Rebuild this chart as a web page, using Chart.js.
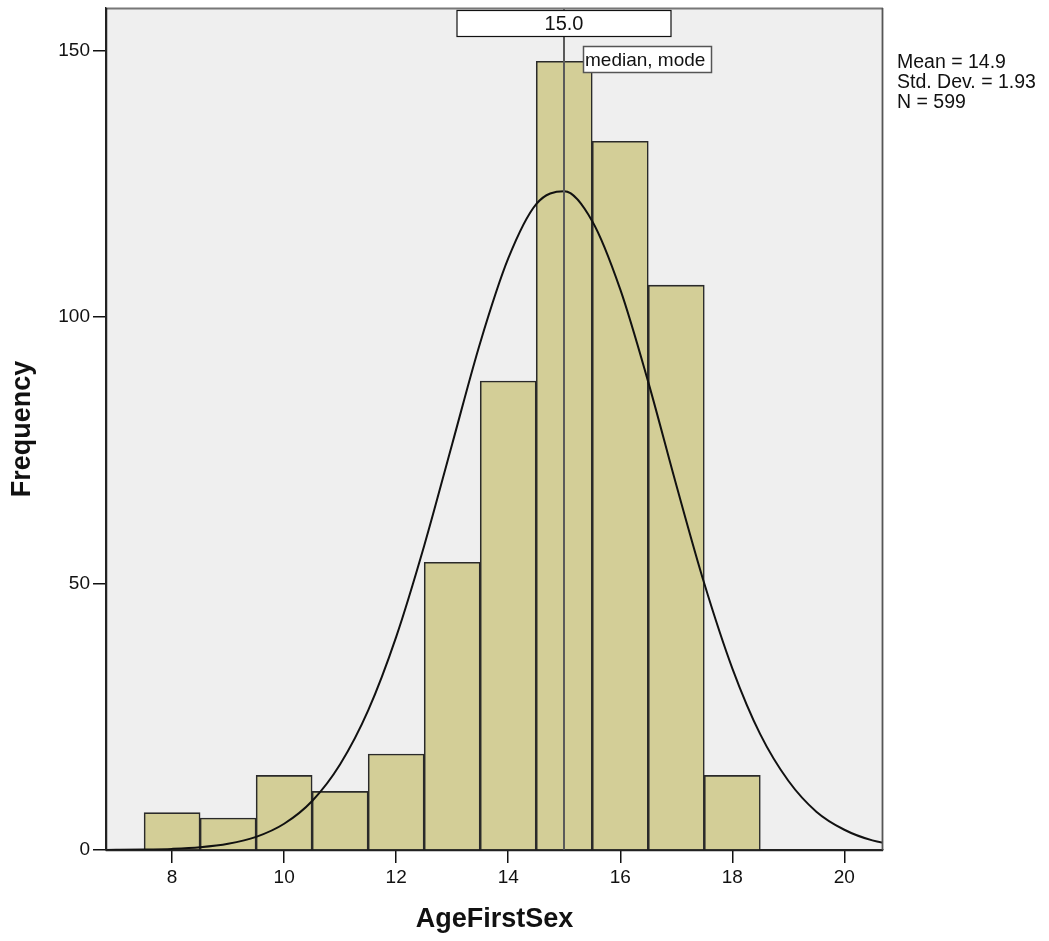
<!DOCTYPE html>
<html><head><meta charset="utf-8">
<script src="https://cdn.jsdelivr.net/npm/chart.js@4/dist/chart.umd.min.js"></script>
<style>html,body{margin:0;padding:0;background:#fff;}#wrap{width:1049px;height:941px;}</style>
</head><body><div id="wrap"><canvas id="c" width="1049" height="941"></canvas></div>
<script>
// ---- data ----
const binCenters = [8, 9, 10, 11, 12, 13, 14, 15, 16, 17, 18];
const frequencies = [7, 6, 14, 11, 18, 54, 88, 148, 133, 106, 14];
const curveX = [6.5, 7, 7.5, 8, 8.5, 9, 9.5, 10, 10.5, 11, 11.5, 12, 12.5, 13, 13.5, 14, 14.5, 15, 15.5, 16, 16.5, 17, 17.5, 18, 18.5, 19, 19.5, 20, 20.5, 21];
const curveY = [0.01, 0.03, 0.08, 0.21, 0.51, 1.16, 2.47, 4.93, 9.2, 16.1, 26.2, 40.0, 57.1, 76.2, 95.2, 111.0, 121.2, 123.6, 118.0, 105.2, 87.8, 68.5, 50.0, 34.1, 21.7, 13.0, 7.2, 3.8, 1.8, 0.84];
const xTicks = [8, 10, 12, 14, 16, 18, 20];
const yTicks = [0, 50, 100, 150];
const medianValue = 15.0;
const medianLabel = '15.0';
const markerLabel = 'median, mode';
const statsLines = ['Mean = 14.9', 'Std. Dev. = 1.93', 'N = 599'];
const xTitle = 'AgeFirstSex';
const yTitle = 'Frequency';

const FONT = "'Liberation Sans', Arial, sans-serif";

const deco = {
  id: 'deco',
  beforeDraw(chart) {
    const {ctx, chartArea: a} = chart;
    ctx.save();
    ctx.fillStyle = '#fff';
    ctx.fillRect(0, 0, chart.width, chart.height);
    ctx.fillStyle = '#EFEFEF';
    ctx.fillRect(a.left, a.top, a.right - a.left, a.bottom - a.top);
    ctx.restore();
  },
  afterDatasetsDraw(chart) {
    const {ctx, chartArea: a, scales} = chart;
    const mx = Math.round(scales.x.getPixelForValue(medianValue));
    ctx.save();
    // median line
    ctx.strokeStyle = '#5a5a5a';
    ctx.lineWidth = 2;
    ctx.beginPath();
    ctx.moveTo(mx, a.top);
    ctx.lineTo(mx, a.bottom);
    ctx.stroke();
    // frame
    ctx.lineWidth = 1.8;
    ctx.strokeStyle = '#777';
    ctx.beginPath();
    ctx.moveTo(a.left, a.top + 0.5); ctx.lineTo(a.right, a.top + 0.5);
    ctx.stroke();
    ctx.strokeStyle = '#555';
    ctx.beginPath();
    ctx.moveTo(a.right - 0.5, a.top); ctx.lineTo(a.right - 0.5, a.bottom);
    ctx.stroke();
    ctx.strokeStyle = '#222';
    ctx.lineWidth = 1.5;
    ctx.beginPath();
    ctx.moveTo(a.left + 0.5, a.top); ctx.lineTo(a.left + 0.5, a.bottom + 0.5);
    ctx.lineTo(a.right, a.bottom + 0.5);
    ctx.stroke();
    // value box
    ctx.lineWidth = 1.2;
    ctx.fillStyle = '#fff';
    ctx.strokeStyle = '#111';
    const bw = 214, bx = mx - bw / 2, by = 10.5, bh = 26;
    ctx.fillRect(bx, by, bw, bh);
    ctx.strokeRect(bx, by, bw, bh);
    ctx.fillStyle = '#111';
    ctx.font = '20px ' + FONT;
    ctx.textAlign = 'center';
    ctx.textBaseline = 'middle';
    ctx.fillText(medianLabel, mx, by + bh / 2 + 1);
    // marker box
    const lx = mx + 19.5, ly = 46.5, lw = 128, lh = 26;
    ctx.fillStyle = '#fff';
    ctx.strokeStyle = '#555';
    ctx.lineWidth = 1.5;
    ctx.fillRect(lx, ly, lw, lh);
    ctx.strokeRect(lx, ly, lw, lh);
    ctx.fillStyle = '#111';
    ctx.font = '19px ' + FONT;
    ctx.textAlign = 'left';
    ctx.fillText(markerLabel, lx + 1.5, ly + lh / 2 + 1);
    // stats
    ctx.textBaseline = 'alphabetic';
    ctx.font = '19.5px ' + FONT;
    statsLines.forEach((t, i) => ctx.fillText(t, 897, 68 + i * 20));
    ctx.restore();
  }
};

new Chart(document.getElementById('c').getContext('2d'), {
  type: 'bar',
  data: {
    datasets: [
      {
        type: 'bar',
        data: binCenters.map((x, i) => ({x: x, y: frequencies[i]})),
        backgroundColor: '#D3CE97',
        borderColor: '#2a2a2a',
        borderWidth: 1.6,
        barPercentage: 1,
        categoryPercentage: 1,
        order: 2
      },
      {
        type: 'line',
        data: curveX.map((x, i) => ({x: x, y: curveY[i]})),
        borderColor: '#111',
        borderWidth: 2,
        pointRadius: 0,
        fill: false,
        cubicInterpolationMode: 'monotone',
        order: 1
      }
    ]
  },
  options: {
    responsive: false,
    animation: false,
    events: [],
    layout: {padding: {left: 0, top: 8, right: 166, bottom: 0}},
    plugins: {legend: {display: false}, tooltip: {enabled: false}},
    scales: {
      x: {
        type: 'linear',
        min: 6.82,
        max: 20.69,
        offset: false,
        grid: {display: true, drawOnChartArea: false, drawTicks: true, tickLength: 13, color: '#111', lineWidth: 1.5, offset: false},
        border: {display: true, color: '#222', width: 1.5},
        ticks: {color: '#111', font: {family: FONT, size: 19}, padding: 3, maxRotation: 0, autoSkip: false},
        afterBuildTicks(s) { s.ticks = xTicks.map(v => ({value: v})); },
        afterFit(s) { s.height = 91; s.paddingLeft = 0; s.paddingRight = 0; },
        title: {display: true, text: xTitle, color: '#111', font: {family: FONT, size: 27, weight: 'bold'}, padding: {top: 0, bottom: 5}}
      },
      y: {
        type: 'linear',
        min: 0,
        max: 158,
        grid: {display: true, drawOnChartArea: false, drawTicks: true, tickLength: 13, color: '#111', lineWidth: 1.5},
        border: {display: true, color: '#222', width: 1.5},
        ticks: {color: '#111', font: {family: FONT, size: 19}, padding: 3, autoSkip: false},
        afterBuildTicks(s) { s.ticks = yTicks.map(v => ({value: v})); },
        afterFit(s) { s.width = 106; s.paddingTop = 0; s.paddingBottom = 0; },
        title: {display: true, text: yTitle, color: '#111', font: {family: FONT, size: 27, weight: 'bold'}, padding: {top: 6, bottom: 0}}
      }
    }
  },
  plugins: [deco]
});
</script>
</body></html>
